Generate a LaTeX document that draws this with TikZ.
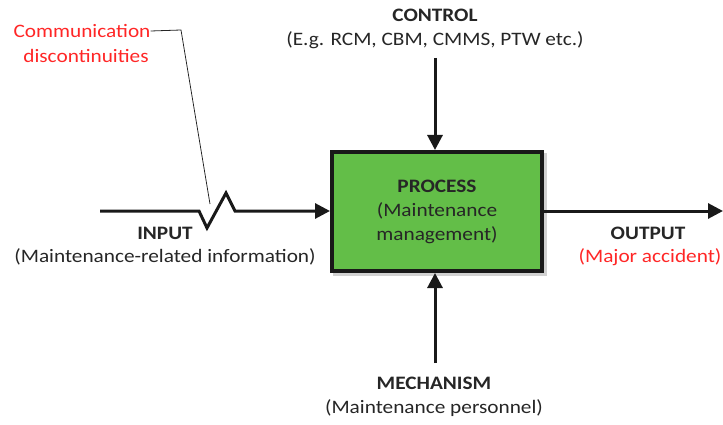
\documentclass[tikz,border=0pt]{standalone}
\usepackage{fontspec}
\setmainfont{Carlito}[FakeStretch=1.12]
\usetikzlibrary{arrows.meta}
\definecolor{boxgreen}{RGB}{99,190,72}
\definecolor{txtred}{RGB}{255,38,38}
\definecolor{txtdark}{RGB}{38,38,38}
\tikzset{
  lbl/.style={inner sep=0pt, text=txtdark, font=\fontsize{19}{24}\selectfont},
  redlbl/.style={lbl, text=txtred},
  flow/.style={line width=3pt, draw=black!90, -{Triangle[length=15pt,width=15pt]}},
  procbox/.style={draw=black!90, line width=4pt, fill=boxgreen, minimum width=210pt, minimum height=119pt, align=center, text=txtdark, font=\fontsize{19}{24}\selectfont},
  leader/.style={draw=black!85, line width=0.8pt}
}
\begin{document}
\begin{tikzpicture}[x=1pt,y=-1pt]
\useasboundingbox (0,0) rectangle (723,425);
% shadow
\fill[black!18] (333,153) rectangle (547,276);
\node[procbox] (proc) at (437,211.5) {\textbf{PROCESS}\\(Maintenance\\management)};
% labels
\node[lbl] (ctrl1) at (435,15) {\textbf{CONTROL}};
\node[lbl] (ctrl2) at (435,40) {(E.g. RCM, CBM, CMMS, PTW etc.)};
\node[lbl] (in1) at (165,233) {\textbf{INPUT}};
\node[lbl] (in2) at (165,257) {(Maintenance-related information)};
\node[lbl] (out1) at (648,233) {\textbf{OUTPUT}};
\node[redlbl] (out2) at (650,257) {(Major accident)};
\node[lbl] (mech1) at (434,383) {\textbf{MECHANISM}};
\node[lbl] (mech2) at (434,408) {(Maintenance personnel)};
\node[redlbl] (comm1) at (82,31) {Communication};
\node[redlbl] (comm2) at (86,56) {discontinuities};
% coordinates
\coordinate (inS) at (100,211);
\coordinate (z1) at (199,211);
\coordinate (z2) at (207,228);
\coordinate (z3) at (226,193);
\coordinate (z4) at (235,211);
\coordinate (ctrlS) at (435,58);
\coordinate (mechS) at (435,363);
\coordinate (outE) at (723,211);
\coordinate (lead1) at (181,30);
\coordinate (lead2) at (210,204);
% connectors
\draw[flow, line join=miter] (inS) -- (z1) -- (z2) -- (z3) -- (z4) -- (proc.west |- z4);
\draw[flow] (ctrlS) -- (ctrlS |- proc.north);
\draw[flow] (mechS) -- (mechS |- proc.south);
\draw[flow] (proc.east |- outE) -- (outE);
\draw[leader] (comm1.east) -- (lead1) -- (lead2);
\end{tikzpicture}
\end{document}
